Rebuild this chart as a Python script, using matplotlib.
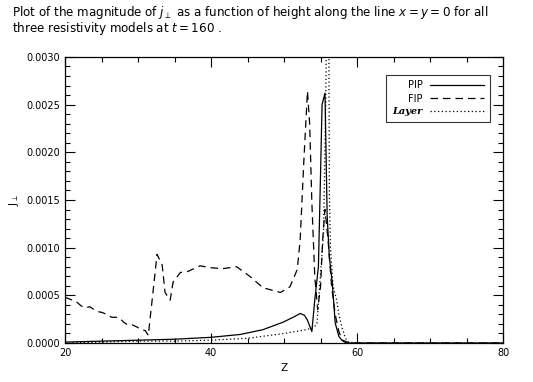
import matplotlib
matplotlib.use("Agg")
import matplotlib.pyplot as plt
from matplotlib.ticker import MultipleLocator, FormatStrFormatter

# FIP (dashed)
z_fip = [20.0, 21.0, 21.6, 22.2, 22.7, 23.4, 24.0, 24.5, 25.1, 25.7, 26.4, 27.0,
         27.5, 28.0, 28.6, 29.2, 29.8, 30.5, 31.0, 31.4, 32.0, 32.6, 33.3, 33.7,
         34.4, 34.8, 35.8, 36.8, 38.5, 39.9, 41.6, 43.5, 45.3, 47.1, 49.5, 50.8,
         51.8, 52.2, 52.7, 53.2, 53.5, 53.8, 54.2, 54.6, 55.0, 55.3, 55.6, 56.0,
         56.5, 57.0, 57.5, 58.0, 59.0, 80.0]
j_fip = [0.00048, 0.00045, 0.00043, 0.00039, 0.00037, 0.00038, 0.00035, 0.00033,
         0.00032, 0.00030, 0.00027, 0.00027, 0.00026, 0.00022, 0.00019, 0.00019,
         0.00017, 0.00014, 0.00013, 0.00008, 0.00050, 0.00093, 0.00082, 0.00053,
         0.00045, 0.00064, 0.00074, 0.00075, 0.00081, 0.00079, 0.00078, 0.00080,
         0.00070, 0.00058, 0.00053, 0.00059, 0.00077, 0.00108, 0.00190, 0.00264,
         0.00230, 0.00148, 0.00070, 0.00035, 0.00060, 0.00110, 0.00140, 0.00110,
         0.00060, 0.00030, 0.00012, 0.00003, 0.00000, 0.00000]

# PIP (solid)
z_pip = [20.0, 25.0, 30.0, 35.0, 40.0, 44.0, 47.1, 49.9, 51.5, 52.2, 52.8, 53.2,
         53.8, 54.2, 54.7, 55.0, 55.2, 55.6, 55.9, 56.2, 56.6, 57.0, 57.5, 57.9,
         58.5, 80.0]
j_pip = [0.00001, 0.00002, 0.00003, 0.00004, 0.00006, 0.00009, 0.00014, 0.00022,
         0.00028, 0.00031, 0.00029, 0.00024, 0.00012, 0.00045, 0.00080, 0.00180,
         0.00250, 0.00262, 0.00133, 0.00090, 0.00063, 0.00021, 0.00007, 0.00003,
         0.00000, 0.00000]

# Layer (dotted)
z_lay = [20.0, 25.0, 30.0, 35.0, 40.0, 45.0, 50.0, 53.0, 54.0, 54.5, 54.9, 55.4,
         55.7, 55.9, 56.1, 56.2, 56.35, 56.7, 57.2, 57.5, 57.9, 58.4, 58.8, 60.0,
         80.0]
j_lay = [0.00000, 0.00001, 0.00002, 0.00002, 0.00003, 0.00005, 0.00010, 0.00014,
         0.00016, 0.00020, 0.00063, 0.00116, 0.00250, 0.00400, 0.00400, 0.00160,
         0.00100, 0.00060, 0.00045, 0.00030, 0.00017, 0.00005, 0.00001, 0.00000,
         0.00000]

fig = plt.figure(figsize=(5.33, 3.82), dpi=100)
ax = fig.add_axes([0.122, 0.102, 0.822, 0.749])

ax.plot(z_pip, j_pip, color='black', lw=0.9, label='PIP')
ax.plot(z_fip, j_fip, color='black', lw=0.9, linestyle=(0, (6, 4)), label='FIP')
ax.plot(z_lay, j_lay, color='black', lw=0.9, linestyle=(0, (1, 2)), label='Layer')

ax.set_xlim(20, 80)
ax.set_ylim(0, 0.003)
ax.xaxis.set_major_locator(MultipleLocator(20))
ax.xaxis.set_minor_locator(MultipleLocator(5))
ax.yaxis.set_major_locator(MultipleLocator(0.0005))
ax.yaxis.set_minor_locator(MultipleLocator(0.0001))
ax.yaxis.set_major_formatter(FormatStrFormatter('%.4f'))
ax.tick_params(which='both', direction='in', top=True, right=True,
               labelsize=7, width=0.8)
ax.tick_params(which='major', length=7)
ax.tick_params(which='minor', length=3.5)
for s in ax.spines.values():
    s.set_linewidth(0.9)

ax.set_xlabel('Z', fontsize=7.5, labelpad=4)
ax.set_ylabel(r'J$_\perp$', fontsize=7.5, labelpad=4)

leg = ax.legend(loc='upper right', bbox_to_anchor=(0.98, 0.955), markerfirst=False,
                fontsize=7, frameon=True, fancybox=False, edgecolor='black',
                handlelength=5.5, borderpad=0.6, labelspacing=0.35)
leg.get_frame().set_linewidth(0.8)
for t in leg.get_texts():
    t.set_ha('right')
leg.get_texts()[2].set_fontfamily('serif')
leg.get_texts()[2].set_fontstyle('italic')
leg.get_texts()[2].set_fontweight('bold')

fig.text(0.022, 0.966, r'Plot of the magnitude of $j_\perp$ as a function of height along the line $x = y = 0$ for all',
         fontsize=8.6, ha='left', va='center')
fig.text(0.022, 0.926, r'three resistivity models at $t = 160$ .',
         fontsize=8.6, ha='left', va='center')

fig.savefig('out.png', dpi=100)
